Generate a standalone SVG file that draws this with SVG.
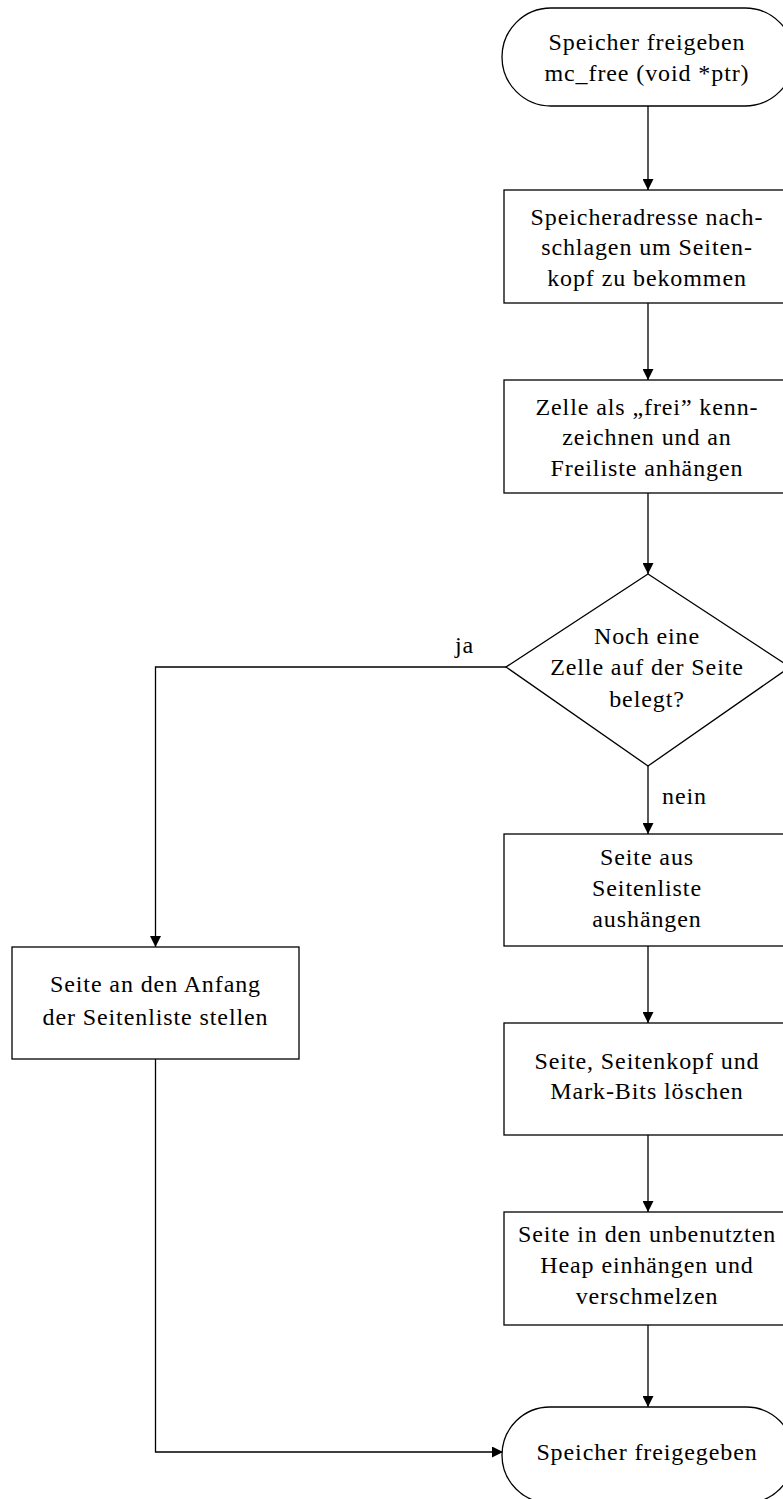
<svg xmlns="http://www.w3.org/2000/svg" width="783" height="1499" viewBox="0 0 783 1499">
<style>
.s{fill:#fff;stroke:#000;stroke-width:1.3}
.c{fill:none;stroke:#000;stroke-width:1.3}
text{font-family:"Liberation Serif","Times New Roman",serif;font-size:24px;fill:#000;text-anchor:middle;letter-spacing:0.9px}
.l{text-anchor:start}
</style>
<defs>
<marker id="a" viewBox="0 0 10 10" refX="10" refY="5" markerWidth="11" markerHeight="11" markerUnits="userSpaceOnUse" orient="auto">
<path d="M0,0 L10,5 L0,10 z" fill="#000"/>
</marker>
</defs>
<g id="connectors">
<line class="c" x1="648" y1="106" x2="648" y2="190" marker-end="url(#a)"/>
<line class="c" x1="648" y1="303" x2="648" y2="380" marker-end="url(#a)"/>
<line class="c" x1="648" y1="493" x2="648" y2="574" marker-end="url(#a)"/>
<line class="c" x1="648" y1="766" x2="648" y2="834" marker-end="url(#a)"/>
<line class="c" x1="648" y1="946" x2="648" y2="1023" marker-end="url(#a)"/>
<line class="c" x1="648" y1="1135" x2="648" y2="1212" marker-end="url(#a)"/>
<line class="c" x1="648" y1="1325" x2="648" y2="1407" marker-end="url(#a)"/>
<polyline class="c" points="506,667 155.5,667 155.5,947" marker-end="url(#a)"/>
<polyline class="c" points="155.5,1059 155.5,1452 503,1452" marker-end="url(#a)"/>
<text class="l" x="455" y="653">ja</text>
<text class="l" x="662" y="804">nein</text>
</g>
<g id="start">
<rect class="s" x="502" y="8" width="292" height="98" rx="49" ry="49"/>
<text x="647" y="50">Speicher freigeben</text>
<text x="647" y="81">mc_free (void *ptr)</text>
</g>
<g id="lookup">
<rect class="s" x="504" y="190" width="288" height="113"/>
<text x="647" y="225">Speicheradresse nach-</text>
<text x="647" y="255">schlagen um Seiten-</text>
<text x="647" y="286">kopf zu bekommen</text>
</g>
<g id="mark">
<rect class="s" x="504" y="380" width="288" height="113"/>
<text x="647" y="415">Zelle als „frei” kenn-</text>
<text x="647" y="445">zeichnen und an</text>
<text x="647" y="476">Freiliste anhängen</text>
</g>
<g id="decision">
<polygon class="s" points="648,574 790,667 648,766 506,667"/>
<text x="647" y="644">Noch eine</text>
<text x="647" y="675">Zelle auf der Seite</text>
<text x="647" y="707">belegt?</text>
</g>
<g id="unhook">
<rect class="s" x="504" y="834" width="288" height="112"/>
<text x="647" y="865">Seite aus</text>
<text x="647" y="896">Seitenliste</text>
<text x="647" y="927">aushängen</text>
</g>
<g id="front">
<rect class="s" x="12" y="947" width="287" height="112"/>
<text x="155.5" y="992">Seite an den Anfang</text>
<text x="155.5" y="1025">der Seitenliste stellen</text>
</g>
<g id="clear">
<rect class="s" x="504" y="1023" width="288" height="112"/>
<text x="647" y="1069">Seite, Seitenkopf und</text>
<text x="647" y="1099">Mark-Bits löschen</text>
</g>
<g id="heap">
<rect class="s" x="504" y="1212" width="288" height="113"/>
<text x="647" y="1242">Seite in den unbenutzten</text>
<text x="647" y="1273">Heap einhängen und</text>
<text x="647" y="1304">verschmelzen</text>
</g>
<g id="end">
<rect class="s" x="502" y="1407" width="292" height="96" rx="48" ry="48"/>
<text x="647" y="1460">Speicher freigegeben</text>
</g>
</svg>
